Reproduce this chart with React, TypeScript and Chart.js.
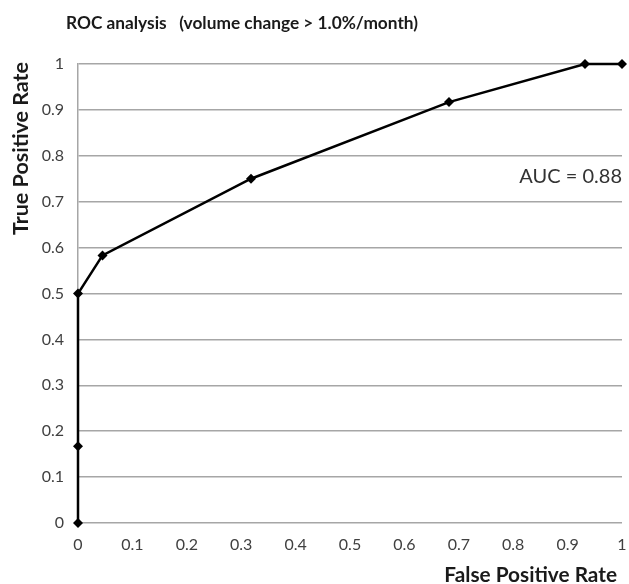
import React, { useEffect, useRef } from "react";
import { Chart, registerables } from "chart.js";

Chart.register(...registerables);

const fprValues = [0, 0, 0, 0.045, 0.318, 0.682, 0.932, 1];
const tprValues = [0, 0.167, 0.5, 0.583, 0.75, 0.917, 1, 1];
const chartTitle = "ROC analysis   (volume change > 1.0%/month)";
const xAxisTitle = "False Positive Rate";
const yAxisTitle = "True Positive Rate";
const aucLabel = "AUC = 0.88";

const FONT = "Lato, 'Open Sans', sans-serif";

const fmt = (v: number) => String(Number(Number(v).toFixed(1)));

const textPlugin = {
  id: "textPlugin",
  afterDraw(chart: any) {
    const ctx = chart.ctx;
    const area = chart.chartArea;
    ctx.save();
    ctx.fillStyle = "#1a1a1a";
    ctx.textBaseline = "middle";
    // chart title
    ctx.font = `bold 17.3px ${FONT}`;
    ctx.textAlign = "left";
    ctx.fillText(chartTitle, 66, 23);
    // x axis title
    ctx.font = `bold 20.8px ${FONT}`;
    ctx.textAlign = "right";
    ctx.fillText(xAxisTitle, 617, 575);
    // AUC
    ctx.font = `20px ${FONT}`;
    ctx.fillStyle = "#333333";
    ctx.textAlign = "right";
    ctx.fillText(aucLabel, area.right, 177);
    // y axis title
    ctx.fillStyle = "#1a1a1a";
    ctx.font = `bold 21.5px ${FONT}`;
    ctx.translate(21, 62);
    ctx.rotate(-Math.PI / 2);
    ctx.textAlign = "right";
    ctx.fillText(yAxisTitle, 0, 0);
    ctx.restore();
  },
};

export default function App() {
  const ref = useRef<HTMLCanvasElement | null>(null);
  useEffect(() => {
    if (!ref.current) return;
    const points = fprValues.map((x, i) => ({ x, y: tprValues[i] }));
    const chart = new Chart(ref.current, {
      type: "scatter",
      data: {
        datasets: [
          {
            data: points,
            showLine: true,
            clip: false,
            borderColor: "#000000",
            borderWidth: 2.5,
            backgroundColor: "#000000",
            pointStyle: "rectRot",
            pointRadius: 5,
            pointBorderWidth: 0,
          },
        ],
      },
      options: {
        animation: false,
        responsive: false,
        maintainAspectRatio: false,
        layout: { padding: { left: 0, right: 7, top: 64, bottom: 0 } },
        plugins: {
          legend: { display: false },
          title: { display: false },
          tooltip: { enabled: false },
        },
        scales: {
          x: {
            type: "linear",
            min: 0,
            max: 1,
            ticks: {
              stepSize: 0.1,
              padding: 12,
              color: "#404040",
              font: { family: FONT, size: 16 },
              callback: (v: any) => fmt(v),
            },
            grid: { display: false, drawTicks: false },
            border: { display: false },
            afterFit: (s: any) => {
              s.height = 61;
              s.paddingLeft = 0;
              s.paddingRight = 0;
            },
          },
          y: {
            type: "linear",
            min: 0,
            max: 1,
            ticks: {
              stepSize: 0.1,
              padding: 14,
              color: "#404040",
              font: { family: FONT, size: 16 },
              callback: (v: any) => fmt(v),
            },
            grid: { color: "#a6a6a6", lineWidth: 1.5, drawTicks: false },
            border: { display: true, color: "#a6a6a6", width: 1.5 },
            afterFit: (s: any) => {
              s.width = 78;
              s.paddingTop = 0;
              s.paddingBottom = 0;
            },
          },
        },
      },
      plugins: [textPlugin],
    } as any);
    return () => chart.destroy();
  }, []);
  return (
    <div style={{ position: "absolute", left: 0, top: 0, width: 629, height: 584, background: "#fff" }}>
      <canvas ref={ref} width={629} height={584} style={{ width: 629, height: 584 }} />
    </div>
  );
}
